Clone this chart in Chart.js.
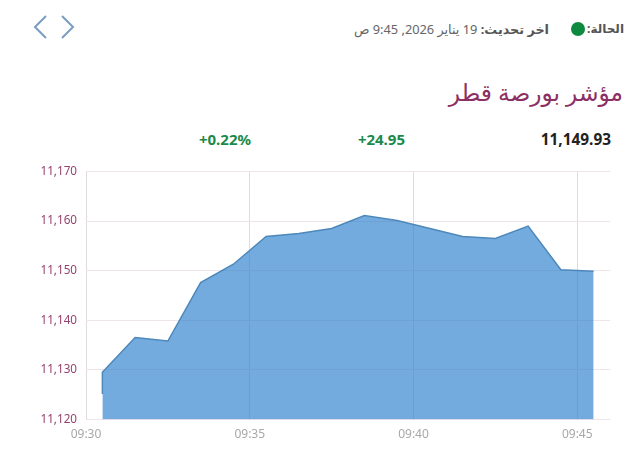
<!DOCTYPE html>
<html lang="ar">
<head>
<meta charset="utf-8">
<script src="https://cdn.jsdelivr.net/npm/chart.js@4"></script>
<style>
    html, body { margin: 0; padding: 0; background: #fff; width: 640px; height: 476px; overflow: hidden; }
    body { position: relative; font-family: "Noto Sans", "DejaVu Sans", sans-serif; }
    .label { position: absolute; white-space: nowrap; line-height: 1; }
    #chart-box { position: absolute; left: 0; top: 160px; width: 640px; height: 300px; }
    #status-dot { position: absolute; left: 571px; top: 22px; width: 14px; height: 14px; border-radius: 50%; background: #0e8a3e; }
    #arrows { position: absolute; left: 30px; top: 14px; }
</style>
</head>
<body>
<svg id="arrows" width="50" height="26" viewBox="0 0 50 26">
    <polyline points="16,2 5,13 16,24" fill="none" stroke="#7a9cc0" stroke-width="2"/>
    <polyline points="32,2 43,13 32,24" fill="none" stroke="#7a9cc0" stroke-width="2"/>
</svg>
<div class="label" dir="rtl" style="right:16px;top:23px;font-size:12px;font-weight:bold;color:#555;">الحالة:</div>
<div id="status-dot"></div>
<div class="label" dir="rtl" style="right:91px;top:23px;font-size:12.8px;color:#666;"><b style="color:#555">اخر تحديث:</b> 19 يناير 2026, 9:45 ص</div>
<div class="label" dir="rtl" style="right:17px;top:81px;font-size:23.3px;color:#8c2f63;">مؤشر بورصة قطر</div>
<div class="label" style="right:29px;top:132px;font-size:15.4px;font-weight:bold;color:#222;">11,149.93</div>
<div class="label" style="right:235px;top:132px;font-size:15px;font-weight:bold;color:#1a8a4a;">+24.95</div>
<div class="label" style="right:389px;top:132px;font-size:15px;font-weight:bold;color:#1a8a4a;">+0.22%</div>
<div id="chart-box"><canvas id="indexChart"></canvas></div>
<script>
// Minutes after 09:30 and index values
const minutes = [0.5, 0.5, 1.5, 2.5, 3.5, 4.5, 5.5, 6.5, 7.5, 8.5, 9.5, 10.5, 11.5, 12.5, 13.5, 14.5, 15.5];
const indexValues = [11125.1, 11129.5, 11136.5, 11135.8, 11147.6, 11151.3, 11156.9, 11157.5, 11158.5, 11161.1, 11160.1, 11158.5, 11156.9, 11156.5, 11159, 11150.2, 11149.9];
const timeLabels = ["09:30", "09:35", "09:40", "09:45"];

const points = minutes.map((m, i) => ({ x: m, y: indexValues[i] }));

new Chart(document.querySelector("#indexChart"), {
    type: "line",
    data: {
        datasets: [{
            data: points,
            fill: "start",
            backgroundColor: "rgba(44,128,205,0.66)",
            borderColor: "#4d88bb",
            borderWidth: 1.5,
            pointRadius: 0,
            tension: 0
        }]
    },
    options: {
        responsive: true,
        maintainAspectRatio: false,
        animation: false,
        layout: { padding: { top: 11.5, right: 30 } },
        plugins: { legend: { display: false }, tooltip: { enabled: false } },
        scales: {
            x: {
                type: "linear",
                min: 0,
                max: 16,
                // keep the plot box where the reference has it
                afterFit: (axis) => {
                    axis.height = 40.6;
                    axis.paddingLeft = 0;
                    axis.paddingRight = 0;
                },
                border: { display: false },
                grid: { color: "#dedade", drawTicks: false },
                ticks: {
                    stepSize: 5,
                    padding: 8,
                    maxRotation: 0,
                    color: "#a8a8a8",
                    font: { family: "Noto Sans", size: 12 },
                    callback: (value) => timeLabels[value / 5]
                }
            },
            y: {
                min: 11120,
                max: 11170,
                afterFit: (axis) => {
                    axis.width = 86;
                    axis.paddingTop = 0;
                    axis.paddingBottom = 0;
                },
                border: { display: false },
                grid: { color: "#eee4ea", drawTicks: false },
                ticks: {
                    stepSize: 10,
                    padding: 9,
                    color: "#96406f",
                    font: { family: "Noto Sans", size: 11.7 },
                    callback: (value) => value.toLocaleString("en-US")
                }
            }
        }
    }
});
</script>
</body>
</html>
